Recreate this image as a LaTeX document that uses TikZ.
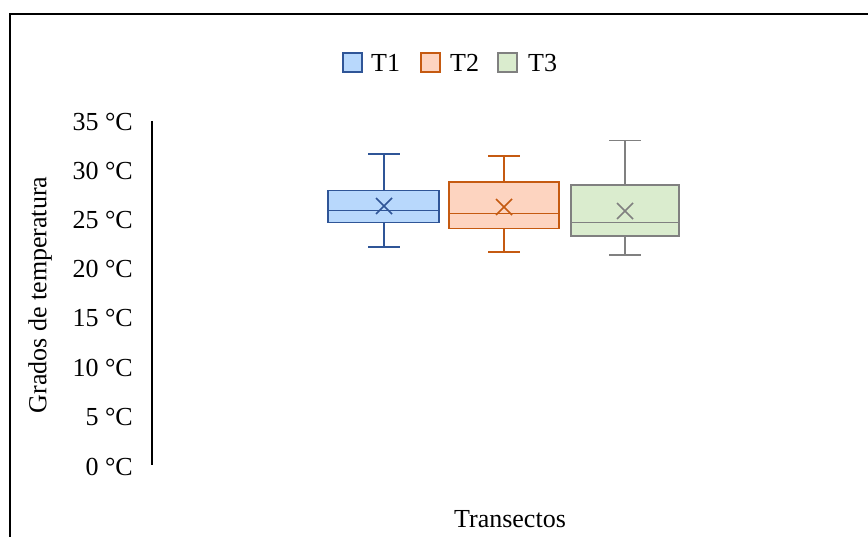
\documentclass[tikz,border=0pt]{standalone}
\usepackage{fontspec}
\setmainfont{Liberation Serif}
\definecolor{bA}{RGB}{47,85,151}
\definecolor{fA}{RGB}{184,216,252}
\definecolor{bB}{RGB}{197,90,17}
\definecolor{fB}{RGB}{253,212,192}
\definecolor{bC}{RGB}{128,128,128}
\definecolor{fC}{RGB}{218,236,206}
\begin{document}
\begin{tikzpicture}[x=1pt,y=-1pt,
  lbl/.style={font=\fontsize{26}{26}\selectfont, inner sep=0pt},
  tick/.style={lbl, anchor=east},
  boxline/.style={line width=1.7pt},
  whisk/.style={line width=1.5pt}]
\useasboundingbox (0,0) rectangle (868,537);
\fill[white] (0,0) rectangle (868,537);
% frame
\draw[line width=2pt] (10,545) -- (10,14) -- (875,14);
% axis
\draw[line width=1.8pt] (152,121) -- (152,465);
% tick labels
\foreach \v/\y in {35/122,30/171,25/220,20/269,15/318,10/368,5/417,0/467}
  \node[tick] (t\v) at (133,\y) {\v\ °C};
\node[lbl, rotate=90] (ylab) at (40,295) {Grados de temperatura};
\node[lbl] (xlab) at (510,519) {Transectos};
% legend
\draw[boxline, draw=bA, fill=fA] (343,53) rectangle (362,72);
\node[lbl, anchor=west] (l1) at (371,63) {T1};
\draw[boxline, draw=bB, fill=fB] (421,53) rectangle (440,72);
\node[lbl, anchor=west] (l2) at (450,63) {T2};
\draw[boxline, draw=bC, fill=fC] (498,53) rectangle (517,72);
\node[lbl, anchor=west] (l3) at (528,63) {T3};
% box plots: cx, x0, x1, wtop, q3, med, q1, wbot, meany
\foreach \cx/\xa/\xb/\wt/\qt/\md/\qb/\wb/\my/\bc/\fc in
  {384/328/439/154/190.5/210.5/222.5/247/206/bA/fA,
   504/449/559/156/182/213.5/228.5/252/207/bB/fB,
   625/571/679/140.5/185/222.5/236/255/211/bC/fC}{
  \draw[whisk, draw=\bc] (\cx,\wt) -- (\cx,\qt);
  \draw[whisk, draw=\bc] (\cx,\qb) -- (\cx,\wb);
  \draw[whisk, draw=\bc] (\cx-16,\wt) -- (\cx+16,\wt);
  \draw[whisk, draw=\bc] (\cx-16,\wb) -- (\cx+16,\wb);
  \draw[boxline, draw=\bc, fill=\fc] (\xa,\qt) rectangle (\xb,\qb);
  \draw[boxline, draw=\bc] (\xa,\md) -- (\xb,\md);
  \draw[whisk, draw=\bc] (\cx-8,\my-8) -- (\cx+8,\my+8);
  \draw[whisk, draw=\bc] (\cx-8,\my+8) -- (\cx+8,\my-8);
}
\end{tikzpicture}
\end{document}
